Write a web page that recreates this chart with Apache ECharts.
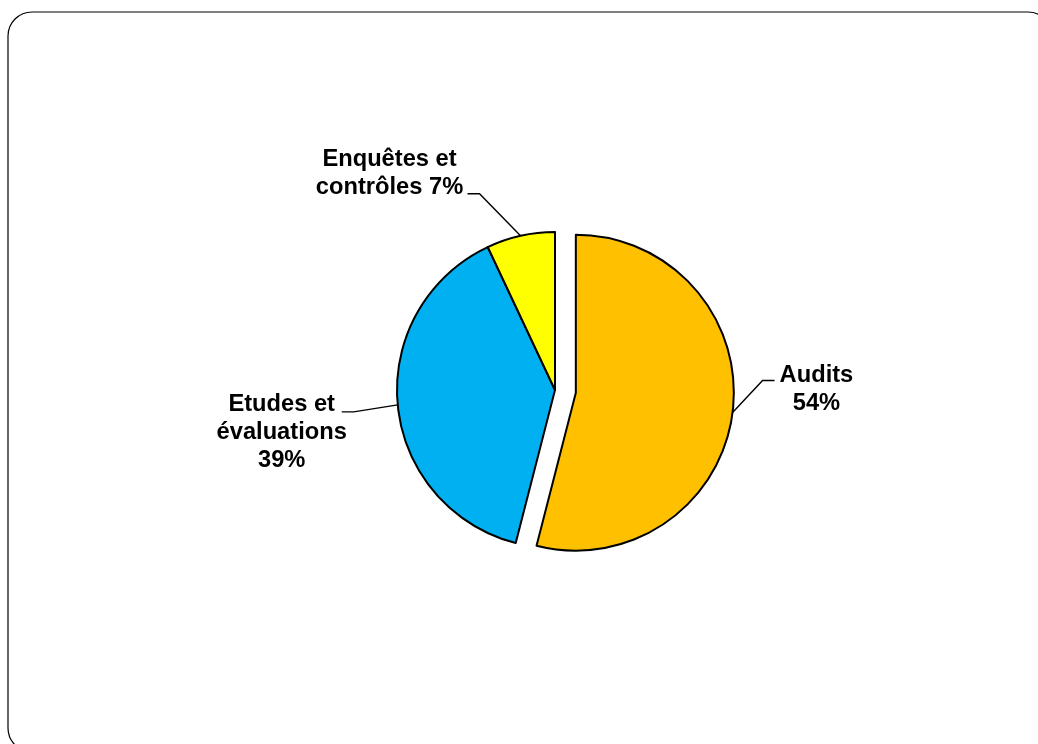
<!DOCTYPE html>
<html>
<head>
<meta charset="utf-8">
<title></title>
<script src="https://cdn.jsdelivr.net/npm/echarts@6/dist/echarts.min.js"></script>
<style type="text/css">
	* {margin: 0; padding: 0;}
	body {background: #fff;}
	#chart {width: 1038px; height: 744px;}
</style>
</head>
<body>
<div id="chart"></div>
<script type="text/javascript">
	var categories = ['Audits', 'Etudes et\névaluations', 'Enquêtes et\ncontrôles'];
	var values = [54, 39, 7];
	var separators = ['\n', '\n', ' '];
	var colors = ['#FFC000', '#00B0F0', '#FFFF00'];
	var pulledOut = 0;

	// where each label sits, measured from the point where its leader leaves the slice
	var labelShift = [[84, -24], [-116, 28], [-131, -62]];
	// where the leader meets the label, measured from the label centre
	var leaderEnd = [[-42, -8], [60, -21], [78, 20]];
	// the pulled-out slice keeps its own label position (select state), so move its text by padding
	var selectedPad = [0, 0, -3, 94];

	var chart = echarts.init(document.getElementById('chart'));

	var data = [];
	for (var i = 0; i < values.length; i++) {
		var item = {
			name: categories[i],
			value: values[i],
			selected: i === pulledOut,
			itemStyle: {color: colors[i]}
		};
		if (i === pulledOut) {
			item.label = {padding: selectedPad};
		}
		data.push(item);
	}

	var option = {
		animation: false,
		backgroundColor: '#fff',
		graphic: [{
			type: 'rect',
			silent: true,
			z: -10,
			shape: {x: 8, y: 12, width: 1044, height: 740, r: 24},
			style: {fill: 'none', stroke: '#000', lineWidth: 1.2}
		}],
		series: [{
			type: 'pie',
			center: [555, 390],
			radius: 158,
			startAngle: 90,
			clockwise: true,
			selectedMode: 'single',
			selectedOffset: 21,
			avoidLabelOverlap: false,
			emphasis: {disabled: true},
			itemStyle: {borderColor: '#000', borderWidth: 2},
			label: {
				show: true,
				position: 'outer',
				color: '#000',
				fontFamily: 'Liberation Sans, Arial, sans-serif',
				fontWeight: 'bold',
				fontSize: 23.7,
				lineHeight: 28,
				formatter: function (p) {
					return p.name + separators[p.dataIndex] + p.value + '%';
				}
			},
			labelLine: {
				show: true,
				length: 20,
				length2: 12,
				lineStyle: {color: '#000', width: 1.4}
			},
			labelLayout: function (p) {
				var i = p.dataIndex;
				var e = p.labelLinePoints[0];
				var cx = e[0] + labelShift[i][0];
				var cy = e[1] + labelShift[i][1];
				var ax = cx + leaderEnd[i][0];
				var ay = cy + leaderEnd[i][1];
				var side = leaderEnd[i][0] < 0 ? -1 : 1;
				return {
					x: cx,
					y: cy,
					align: 'center',
					verticalAlign: i === pulledOut ? 'bottom' : 'middle',
					labelLinePoints: [e, [ax + side * 12, ay], [ax, ay]]
				};
			},
			data: data
		}]
	};

	chart.setOption(option);
</script>
</body>
</html>
